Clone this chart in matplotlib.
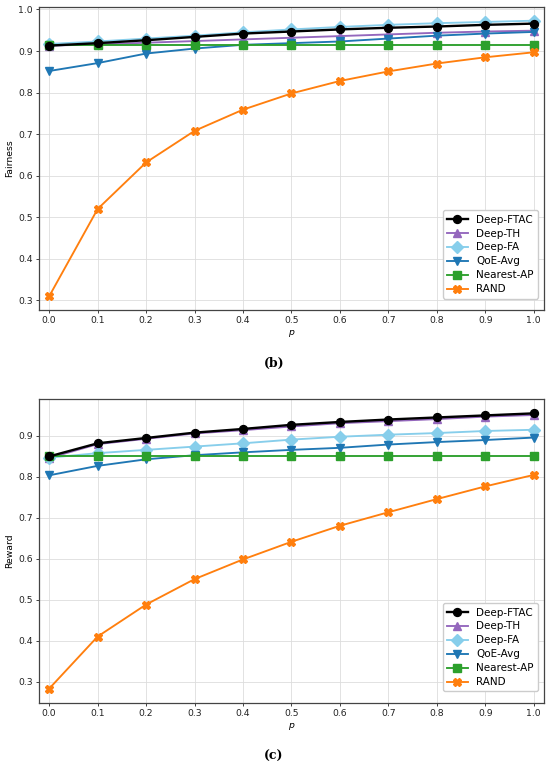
import numpy as np
import matplotlib
matplotlib.use("Agg")
import matplotlib.pyplot as plt

# x axis: probability p
p = [0.0, 0.1, 0.2, 0.3, 0.4, 0.5, 0.6, 0.7, 0.8, 0.9, 1.0]

# (b) Fairness
fair_ftac = [0.913, 0.919, 0.926, 0.934, 0.942, 0.947, 0.952, 0.956, 0.959, 0.963, 0.966]
fair_th   = [0.913, 0.916, 0.920, 0.924, 0.928, 0.932, 0.936, 0.940, 0.944, 0.947, 0.949]
fair_fa   = [0.917, 0.923, 0.930, 0.937, 0.945, 0.952, 0.958, 0.963, 0.967, 0.970, 0.973]
fair_qoe  = [0.852, 0.871, 0.894, 0.906, 0.915, 0.919, 0.923, 0.930, 0.937, 0.942, 0.946]
fair_near = [0.915, 0.915, 0.915, 0.915, 0.915, 0.915, 0.915, 0.915, 0.915, 0.915, 0.915]
fair_rand = [0.310, 0.520, 0.632, 0.708, 0.759, 0.798, 0.828, 0.851, 0.870, 0.885, 0.897]

# (c) Reward
rew_ftac = [0.849, 0.881, 0.894, 0.907, 0.916, 0.926, 0.933, 0.939, 0.944, 0.949, 0.954]
rew_th   = [0.845, 0.879, 0.892, 0.905, 0.913, 0.922, 0.930, 0.935, 0.940, 0.946, 0.950]
rew_fa   = [0.846, 0.857, 0.865, 0.873, 0.881, 0.890, 0.897, 0.902, 0.906, 0.911, 0.914]
rew_qoe  = [0.803, 0.826, 0.842, 0.852, 0.859, 0.865, 0.870, 0.878, 0.884, 0.889, 0.895]
rew_near = [0.850, 0.850, 0.850, 0.850, 0.850, 0.850, 0.850, 0.850, 0.850, 0.850, 0.850]
rew_rand = [0.283, 0.410, 0.488, 0.550, 0.598, 0.641, 0.680, 0.713, 0.745, 0.776, 0.804]

labels  = ["Deep-FTAC", "Deep-TH", "Deep-FA", "QoE-Avg", "Nearest-AP", "RAND"]
colors  = ["black", "#9467bd", "#87ceeb", "#1f77b4", "#2ca02c", "#ff7f0e"]
markers = ["o", "^", "D", "v", "s", "X"]

plt.rcParams["font.size"] = 6.7

fig = plt.figure(figsize=(5.5, 7.67), dpi=100)
ax_top = fig.add_axes([0.0709, 0.5958, 0.918, 0.3951])
ax_bot = fig.add_axes([0.0709, 0.0834, 0.918, 0.3964])


def draw_panel(ax, series, ylabel):
    # draw the coloured lines first, black on top
    order = [1, 2, 3, 4, 5, 0]
    handles = {}
    for i in order:
        lw = 1.7 if i == 0 else 1.35
        h, = ax.plot(p, series[i], color=colors[i], marker=markers[i],
                     markersize=5.7, linewidth=lw, label=labels[i],
                     zorder=4 if i == 0 else 3)
        handles[i] = h
    ax.set_xlim(-0.021, 1.021)
    ax.set_xticks(p)
    ax.set_xticklabels([f"{v:.1f}" for v in p])
    ax.set_xlabel("p", fontstyle="italic", labelpad=2)
    ax.set_ylabel(ylabel, labelpad=3)
    ax.grid(True, color="#dddddd", linewidth=0.6)
    ax.set_axisbelow(True)
    for s in ax.spines.values():
        s.set_color("#444444")
        s.set_linewidth(0.9)
    ax.tick_params(length=2.5, width=0.6, pad=2, colors="#222222")
    ax.legend([handles[i] for i in range(6)], labels, loc="lower right",
              bbox_to_anchor=(1 - 6 / 505, 11.5 / 303), borderaxespad=0,
              fontsize=7.5, framealpha=1, edgecolor="#cccccc",
              handlelength=2.0, borderpad=0.4, labelspacing=0.38)


draw_panel(ax_top, [fair_ftac, fair_th, fair_fa, fair_qoe, fair_near, fair_rand], "Fairness")
ax_top.set_ylim(0.277, 1.006)
ax_top.set_yticks([0.3, 0.4, 0.5, 0.6, 0.7, 0.8, 0.9, 1.0])

draw_panel(ax_bot, [rew_ftac, rew_th, rew_fa, rew_qoe, rew_near, rew_rand], "Reward")
ax_bot.set_ylim(0.248, 0.989)
ax_bot.set_yticks([0.3, 0.4, 0.5, 0.6, 0.7, 0.8, 0.9])

fig.text(0.498, 1 - 363 / 767, "(b)", ha="center", va="center",
         family="DejaVu Serif", fontweight="bold", fontsize=9)
fig.text(0.498, 1 - 756 / 767, "(c)", ha="center", va="center",
         family="DejaVu Serif", fontweight="bold", fontsize=9)

fig.savefig("out.png", dpi=100)
